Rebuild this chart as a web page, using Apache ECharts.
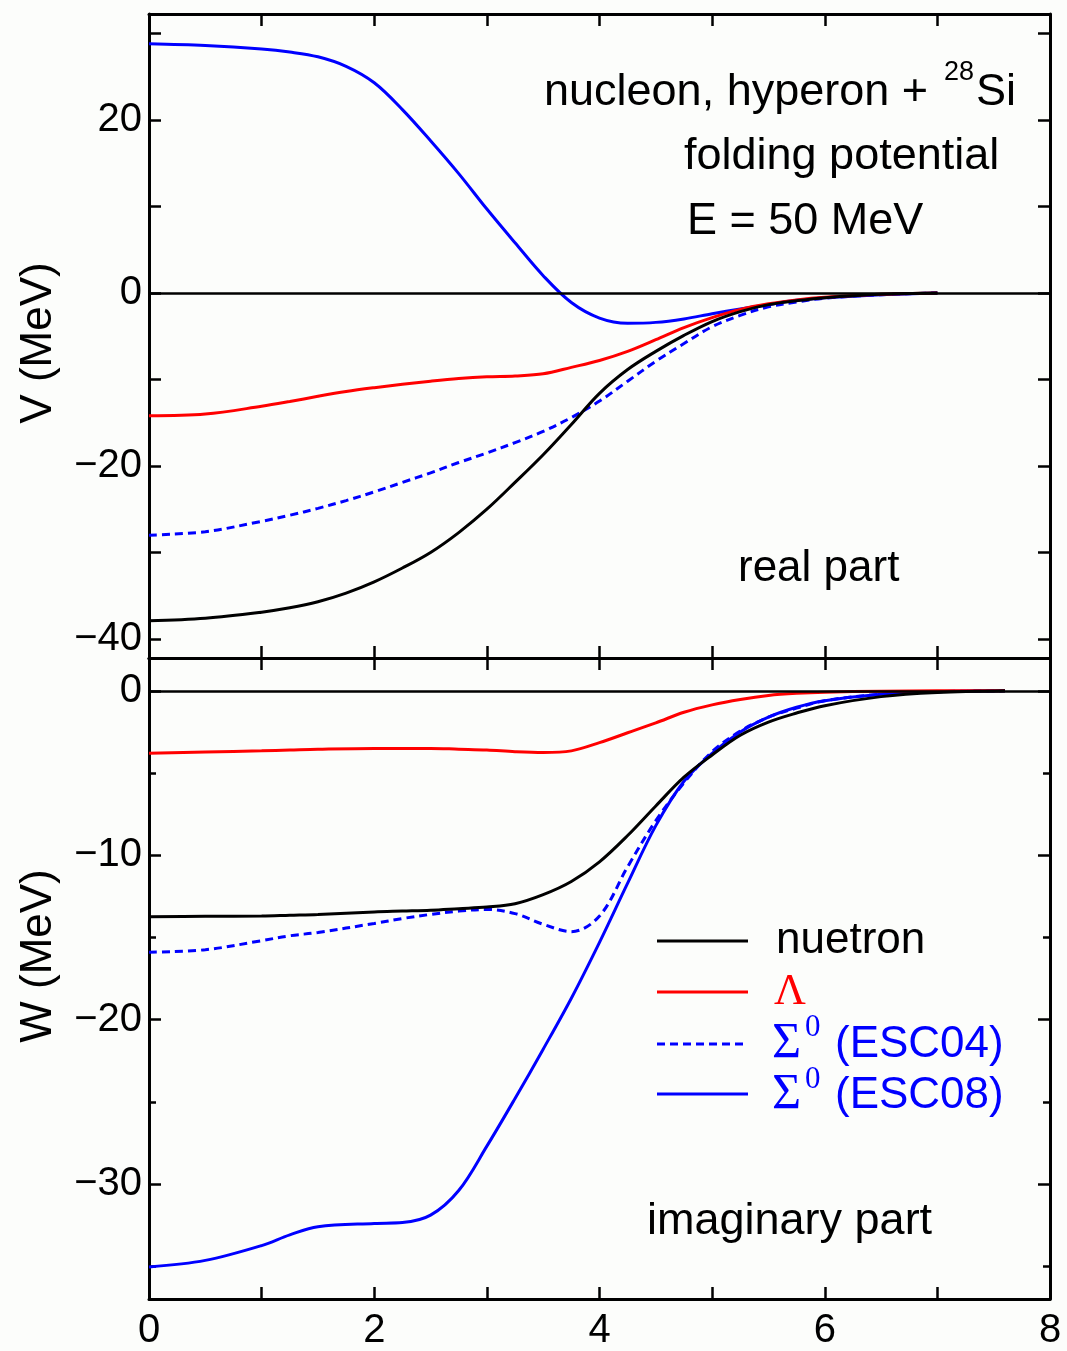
<!DOCTYPE html>
<html>
<head>
<meta charset="utf-8">
<script src="https://cdn.jsdelivr.net/npm/echarts@6/dist/echarts.min.js"></script>
<style>
html,body{margin:0;padding:0;background:#fcfdfb;}
#chart{width:1067px;height:1351px;}
</style>
</head>
<body>
<div id="chart"></div>
<script>
// ---- data: real part (top panel) ----
const xV = [0,0.5,1,1.25,1.5,1.75,2,2.25,2.5,2.75,3,3.25,3.5,3.75,4,4.25,4.5,4.75,5,5.25,5.5,5.75,6,6.5,7];
const vNeutron    = [-37.9,-37.6,-36.9,-36.4,-35.7,-34.7,-33.4,-31.8,-30.0,-27.7,-25.0,-21.9,-18.7,-15.2,-11.6,-8.85,-6.75,-4.9,-3.3,-2.15,-1.35,-0.9,-0.55,-0.15,0];
const vLambda     = [-14.2,-14.0,-13.1,-12.55,-11.95,-11.4,-10.95,-10.55,-10.2,-9.9,-9.7,-9.6,-9.35,-8.6,-7.8,-6.75,-5.4,-4.0,-2.85,-1.9,-1.25,-0.8,-0.5,-0.15,0];
const vSigmaESC04 = [-28.0,-27.6,-26.4,-25.7,-24.9,-24.0,-23.0,-21.9,-20.8,-19.6,-18.5,-17.3,-16.0,-14.4,-12.5,-10.2,-7.9,-5.85,-3.9,-2.6,-1.6,-1.05,-0.6,-0.2,0];
const vSigmaESC08 = [28.8,28.6,28.2,27.85,27.3,26.2,24.3,21.2,17.6,13.8,9.7,5.8,2.0,-1.1,-2.9,-3.5,-3.4,-3.0,-2.4,-1.85,-1.35,-0.85,-0.55,-0.2,0];

// ---- data: imaginary part (bottom panel) ----
const xW = [0,0.5,1,1.25,1.5,2,2.25,2.5,2.75,3,3.25,3.5,3.75,4,4.25,4.5,4.75,5,5.25,5.5,5.75,6,6.5,7,7.6];
const wNeutron    = [-13.75,-13.72,-13.7,-13.65,-13.6,-13.45,-13.4,-13.35,-13.25,-13.15,-12.95,-12.4,-11.6,-10.4,-8.8,-7.0,-5.25,-3.9,-2.7,-1.9,-1.35,-0.9,-0.35,-0.1,0];
const wLambda     = [-3.8,-3.72,-3.65,-3.6,-3.55,-3.5,-3.5,-3.5,-3.55,-3.6,-3.7,-3.75,-3.65,-3.15,-2.55,-1.95,-1.3,-0.85,-0.52,-0.28,-0.15,-0.08,-0.02,0,0];
const wSigmaESC04 = [-15.9,-15.75,-15.2,-14.9,-14.7,-14.15,-13.85,-13.6,-13.4,-13.3,-13.55,-14.2,-14.65,-13.7,-10.7,-7.9,-5.6,-3.7,-2.45,-1.6,-1.05,-0.6,-0.2,-0.05,0];
const wSigmaESC08 = [-35.05,-34.65,-33.75,-33.1,-32.6,-32.4,-32.35,-31.9,-30.4,-27.7,-24.8,-21.8,-18.7,-15.3,-11.7,-8.2,-5.5,-3.8,-2.5,-1.6,-1.0,-0.6,-0.2,-0.05,0];

// ---- ticks / labels ----
const xTicks = [1,2,3,4,5,6,7];
const xLabels = [0,2,4,6,8];
const vTicks = [-40,-30,-20,-10,0,10,20,30];
const vLabels = [-40,-20,0,20];
const wTicksMajor = [0,-10,-20,-30];
const wTicksMinor = [-5,-15,-25,-35];
const wLabels = [0,-10,-20,-30];

const SANS = '"Liberation Sans", Arial, Helvetica, sans-serif';
const SERIF = '"Liberation Serif", "Times New Roman", serif';
const fmt = v => v < 0 ? '\u2212' + Math.abs(v) : String(v);

const chart = echarts.init(document.getElementById('chart'), null, {renderer:'canvas'});

function xAx(grid, pos, labels) {
  return {
    type:'value', gridIndex:grid, position:pos, min:0, max:8,
    axisLine:{show:true, onZero:false, lineStyle:{color:'#000', width:3}},
    axisTick:{show:true, inside:true, length:12, customValues:xTicks, lineStyle:{color:'#000', width:2.5}},
    axisLabel:labels ? {show:true, customValues:xLabels, margin:12, color:'#000', fontSize:40, fontFamily:SANS} : {show:false},
    splitLine:{show:false}
  };
}
function yAx(grid, pos, min, max, ticks, len, labels, line) {
  return {
    type:'value', gridIndex:grid, position:pos, min:min, max:max,
    axisLine:{show:line, onZero:false, lineStyle:{color:'#000', width:3}},
    axisTick:{show:true, inside:true, length:len, customValues:ticks, lineStyle:{color:'#000', width:2.5}},
    axisLabel:labels ? {show:true, customValues:labels, formatter:fmt, margin:7, color:'#000', fontSize:40, fontFamily:SANS} : {show:false},
    splitLine:{show:false}
  };
}

const zeroLine = {
  silent:true, symbol:['none','none'], label:{show:false},
  lineStyle:{color:'#000', width:2.5, type:'solid'},
  data:[{yAxis:0}]
};

function ser(name, xs, ys, color, dashed, xi, yi, z, extra) {
  const s = {
    name:name, type:'line', xAxisIndex:xi, yAxisIndex:yi,
    data: xs.map((x,i)=>[x, ys[i]]),
    showSymbol:false, symbol:'none', smooth:0.35, z:z,
    lineStyle:{color:color, width:3, type: dashed ? [8,5] : 'solid'},
    itemStyle:{color:color}
  };
  return Object.assign(s, extra || {});
}

function txt(x, y, text, size, color, family, rot) {
  const e = {type:'text', x:x, y:y, style:{text:text, font:size+'px '+(family||SANS), fill:color||'#000', textAlign: rot ? 'center' : 'left', textVerticalAlign:'middle'}};
  if (rot) e.rotation = rot;
  return e;
}

const option = {
  animation:false,
  backgroundColor:'#fcfdfb',
  grid:[
    {left:149, top:14, width:901, height:644, containLabel:false},
    {left:149, top:658, width:901, height:643, containLabel:false}
  ],
  xAxis:[
    xAx(0,'bottom',false),
    xAx(0,'top',false),
    xAx(1,'bottom',true),
    xAx(1,'top',false)
  ],
  yAxis:[
    yAx(0,'left',-42.2,32.25,vTicks,12,vLabels,true),
    yAx(0,'right',-42.2,32.25,vTicks,12,null,true),
    yAx(1,'left',-37,2,wTicksMajor,12,wLabels,true),
    yAx(1,'right',-37,2,wTicksMajor,12,null,true),
    yAx(1,'left',-37,2,wTicksMinor,7,null,false),
    yAx(1,'right',-37,2,wTicksMinor,7,null,false)
  ],
  series:[
    ser('Σ0 (ESC04)', xV, vSigmaESC04, '#0000ff', true, 0, 0, 2, {markLine:zeroLine}),
    ser('Σ0 (ESC08)', xV, vSigmaESC08, '#0000ff', false, 0, 0, 3),
    ser('Λ', xV, vLambda, '#ff0000', false, 0, 0, 4),
    ser('nuetron', xV, vNeutron, '#000000', false, 0, 0, 5),
    ser('Σ0 (ESC04)', xW, wSigmaESC04, '#0000ff', true, 2, 2, 2, {markLine:zeroLine}),
    ser('Σ0 (ESC08)', xW, wSigmaESC08, '#0000ff', false, 2, 2, 3),
    ser('Λ', xW, wLambda, '#ff0000', false, 2, 2, 4),
    ser('nuetron', xW, wNeutron, '#000000', false, 2, 2, 5)
  ],
  graphic:[
    // axis titles
    txt(39, 343, 'V (MeV)', 44, '#000', SANS, Math.PI/2),
    txt(39, 956, 'W (MeV)', 44, '#000', SANS, Math.PI/2),
    // annotations
    txt(544, 93, 'nucleon, hyperon +', 45),
    txt(944, 73, '28', 27),
    txt(976, 93, 'Si', 45),
    txt(684, 157, 'folding potential', 45),
    txt(687, 222, 'E = 50 MeV', 45),
    txt(738, 569, 'real part', 44),
    txt(647, 1222, 'imaginary part', 45),
    // legend
    {type:'line', shape:{x1:657, y1:941, x2:748, y2:941}, style:{stroke:'#000', lineWidth:3}},
    txt(776, 941, 'nuetron', 44),
    {type:'line', shape:{x1:657, y1:992, x2:748, y2:992}, style:{stroke:'#ff0000', lineWidth:3}},
    txt(774, 992, 'Λ', 44, '#ff0000', SERIF),
    {type:'line', shape:{x1:657, y1:1044, x2:748, y2:1044}, style:{stroke:'#0000ff', lineWidth:3, lineDash:[8,5]}},
    txt(772, 1044, 'Σ', 50, '#0000ff', SERIF),
    txt(805, 1028, '0', 31, '#0000ff', SERIF),
    txt(835, 1045, '(ESC04)', 44, '#0000ff'),
    {type:'line', shape:{x1:657, y1:1094, x2:748, y2:1094}, style:{stroke:'#0000ff', lineWidth:3}},
    txt(772, 1095, 'Σ', 50, '#0000ff', SERIF),
    txt(805, 1080, '0', 31, '#0000ff', SERIF),
    txt(835, 1096, '(ESC08)', 44, '#0000ff')
  ]
};
chart.setOption(option);
</script>
</body>
</html>
